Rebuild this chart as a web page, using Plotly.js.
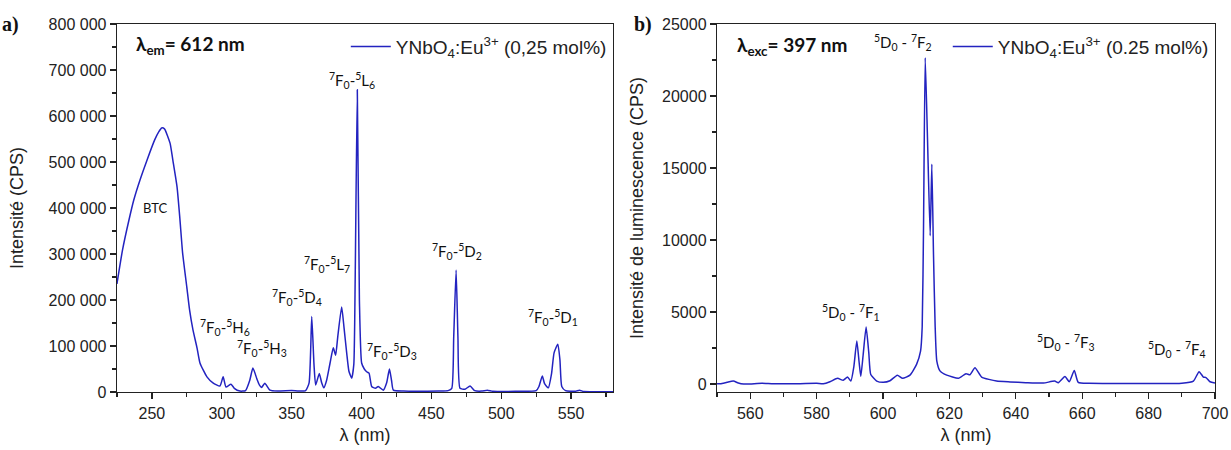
<!DOCTYPE html>
<html><head><meta charset="utf-8">
<script src="https://cdn.plot.ly/plotly-3.0.1.min.js"></script>
<style>body{margin:0;background:#fff}#g{width:1231px;height:450px}</style>
</head><body><div id="g"></div>
<script>
// Panel a) excitation spectrum (lambda_em = 612 nm)
const lamA = [225,229,233.6,237,241.5,246.5,252,255,257,259,263,265,268,270,272,275,277,279.4,282.3,284.4,289.4,293.7,298.7,301,303,306.6,309,313,317,320,322.3,325.2,327,328.5,330.8,334.5,340,350,355,360,362.5,364.4,366,367.2,369.8,371.5,373,375,377.5,379.8,381.5,383,385.8,387.5,389.4,391,393,394.5,395.5,397,398.5,400.1,402,403.7,405.4,407.3,410,412,415.6,418,420,421.5,422.8,430,440,455,462,464.6,466,467.7,469,470.5,474,477.7,481,486,490,494,510,525,527,529.4,531,533.7,536,537.8,540.5,542,543.3,546,553,556,559,570,580];
const intA = [235000,309000,374000,417000,461000,504000,548000,566000,574000,572000,541000,504000,446000,378000,302000,228000,178000,135000,96000,63000,33000,20000,13000,33000,11000,17000,8000,2000,3000,25000,52000,28000,15000,10000,19000,4000,2000,3000,2000,3000,20000,164000,60000,15000,40000,20000,9000,25000,63000,96000,80000,120000,185000,140000,85000,45000,30000,60000,250000,657000,200000,63000,50000,44000,41000,12000,8000,12000,4000,20000,50000,25000,4000,2000,1500,2000,3000,8000,120000,265000,120000,8000,6000,13000,3000,2000,4000,1500,1500,3000,12000,35000,18000,9000,40000,85000,104000,70000,12000,3000,1500,4000,1000,800,800];
// Panel b) emission spectrum (lambda_exc = 397 nm)
const lamB = [550,551,553,554.9,556.4,558,560,563.5,567,575,580,582,584,586.3,588,589.3,590.3,591.2,592.1,592.8,593.3,594,594.9,595.7,596.3,598.1,600.1,602.1,604.3,605.9,608.1,610.1,611.3,611.8,612.2,612.7,613.4,614.2,614.7,615.2,615.7,616.2,617.2,619.2,622.7,625,626.2,627.7,629.7,634.2,638.3,643,648.3,651.7,652.8,654.8,656.1,657.6,658.8,662,670,680,690,693.5,695.2,696.5,697.3,698.5,700];
const intB = [20,20,120,210,70,0,10,60,20,30,50,20,160,400,260,490,210,1200,2990,1500,530,2000,3960,2200,670,210,120,230,620,400,620,1370,2290,4000,11000,22660,17000,10300,15270,9000,4000,1600,900,620,400,720,650,1130,490,210,150,100,70,210,100,530,160,950,120,50,40,40,60,210,860,490,450,160,80];
const seriesName = ['YNbO<sub>4</sub>:Eu<sup>3+</sup> (0,25 mol%)', 'YNbO<sub>4</sub>:Eu<sup>3+</sup> (0.25 mol%)'];
const ticksA = [0,100000,200000,300000,400000,500000,600000,700000,800000];
const tickTextA = ['0','100 000','200 000','300 000','400 000','500 000','600 000','700 000','800 000'];

const col = '#2323c0';
const tickFont = {family:'Liberation Sans, Arial, sans-serif', size:16, color:'#222'};
const annFont = {family:'Lato, Open Sans, sans-serif', size:15, color:'#111'};
const titleFont = {family:'Liberation Sans, Arial', size:18, color:'#222'};

const traces = [
 {x:lamA, y:intA, type:'scatter', mode:'lines', line:{color:col, width:1.5, shape:'spline', smoothing:0.5}, name:seriesName[0], xaxis:'x', yaxis:'y', legend:'legend'},
 {x:lamB, y:intB, type:'scatter', mode:'lines', line:{color:col, width:1.5, shape:'spline', smoothing:0.5}, name:seriesName[1], xaxis:'x2', yaxis:'y2', legend:'legend2'}
];

const axBase = {showline:true, linecolor:'#222', linewidth:1.3, mirror:true, ticks:'outside', ticklen:6, tickcolor:'#222', tickwidth:1.3, showgrid:false, zeroline:false, tickfont:tickFont};

const ann = (x,y,xref,yref,text,extra) => Object.assign({x:x,y:y,xref:xref,yref:yref,text:text,showarrow:false,font:annFont}, extra||{});

const legFont = {family:'Liberation Sans, Arial', size:19, color:'#222'};

const layout = {
 width:1231, height:450,
 margin:{l:0,r:0,t:24,b:58},
 paper_bgcolor:'#fff', plot_bgcolor:'#fff',
 showlegend:true,
 xaxis: Object.assign({}, axBase, {domain:[0.095,0.498], range:[225,580], dtick:50, tick0:0, minor:{ticks:'outside', ticklen:4, dtick:25, tickcolor:'#222'}, title:{text:'λ (nm)', font:titleFont, standoff:8}}),
 yaxis: Object.assign({}, axBase, {anchor:'x', range:[0,800000], tickvals:ticksA, ticktext:tickTextA, minor:{ticks:'outside', ticklen:4, dtick:50000, tickcolor:'#222'}, title:{text:'Intensité (CPS)', font:titleFont, standoff:20}}),
 xaxis2: Object.assign({}, axBase, {domain:[0.5825,0.987], anchor:'y2', range:[550,700], dtick:20, tick0:0, minor:{ticks:'outside', ticklen:4, dtick:10, tickcolor:'#222'}, title:{text:'λ (nm)', font:titleFont, standoff:8}}),
 yaxis2: Object.assign({}, axBase, {anchor:'x2', range:[-550,25000], dtick:5000, tick0:0, tickformat:'d', minor:{ticks:'outside', ticklen:4, dtick:2500, tickcolor:'#222'}, title:{text:'Intensité de luminescence (CPS)', font:titleFont, standoff:13}}),
 legend:{x:0.497, y:0.99, xanchor:'right', yanchor:'top', itemwidth:40, bgcolor:'rgba(0,0,0,0)', font:legFont},
 legend2:{x:0.986, y:0.99, xanchor:'right', yanchor:'top', itemwidth:40, bgcolor:'rgba(0,0,0,0)', font:legFont},
 annotations:[
  ann(0, 1.0, 'paper','paper','<b>a)</b>',{xanchor:'left',yanchor:'middle',font:{family:'Liberation Serif, serif',size:20,color:'#111'}}),
  ann(0.513, 1.0, 'paper','paper','<b>b)</b>',{xanchor:'left',yanchor:'middle',font:{family:'Liberation Serif, serif',size:20,color:'#111'}}),
  ann(0.109, 0.985,'paper','paper','<b>λ<sub>em</sub>= 612 nm</b>',{xanchor:'left',font:{family:'Lato, Open Sans, sans-serif',size:19,color:'#111'}}),
  ann(0.597, 0.98,'paper','paper','<b>λ<sub>exc</sub>= 397 nm</b>',{xanchor:'left',font:{family:'Lato, Open Sans, sans-serif',size:19,color:'#111'}}),
  ann(252, 400000,'x','y','BTC',{font:{family:'Lato, Open Sans, sans-serif',size:13,color:'#111'}}),
  ann(393.5, 678000,'x','y','<sup>7</sup>F<sub>0</sub>-<sup>5</sup>L<sub>6</sub>'),
  ann(302.3, 140000,'x','y','<sup>7</sup>F<sub>0</sub>-<sup>5</sup>H<sub>6</sub>'),
  ann(328.8, 95000,'x','y','<sup>7</sup>F<sub>0</sub>-<sup>5</sup>H<sub>3</sub>'),
  ann(353.5, 205000,'x','y','<sup>7</sup>F<sub>0</sub>-<sup>5</sup>D<sub>4</sub>'),
  ann(375.5, 277000,'x','y','<sup>7</sup>F<sub>0</sub>-<sup>5</sup>L<sub>7</sub>'),
  ann(421.5, 88000,'x','y','<sup>7</sup>F<sub>0</sub>-<sup>5</sup>D<sub>3</sub>'),
  ann(468, 306000,'x','y','<sup>7</sup>F<sub>0</sub>-<sup>5</sup>D<sub>2</sub>'),
  ann(537, 161000,'x','y','<sup>7</sup>F<sub>0</sub>-<sup>5</sup>D<sub>1</sub>'),
  ann(606, 23700,'x2','y2','<sup>5</sup>D<sub>0</sub> - <sup>7</sup>F<sub>2</sub>'),
  ann(590.5, 5000,'x2','y2','<sup>5</sup>D<sub>0</sub> - <sup>7</sup>F<sub>1</sub>'),
  ann(655, 2900,'x2','y2','<sup>5</sup>D<sub>0</sub> - <sup>7</sup>F<sub>3</sub>'),
  ann(688.7, 2380,'x2','y2','<sup>5</sup>D<sub>0</sub> - <sup>7</sup>F<sub>4</sub>')
 ]
};
Plotly.newPlot('g', traces, layout, {staticPlot:true});
</script></body></html>
